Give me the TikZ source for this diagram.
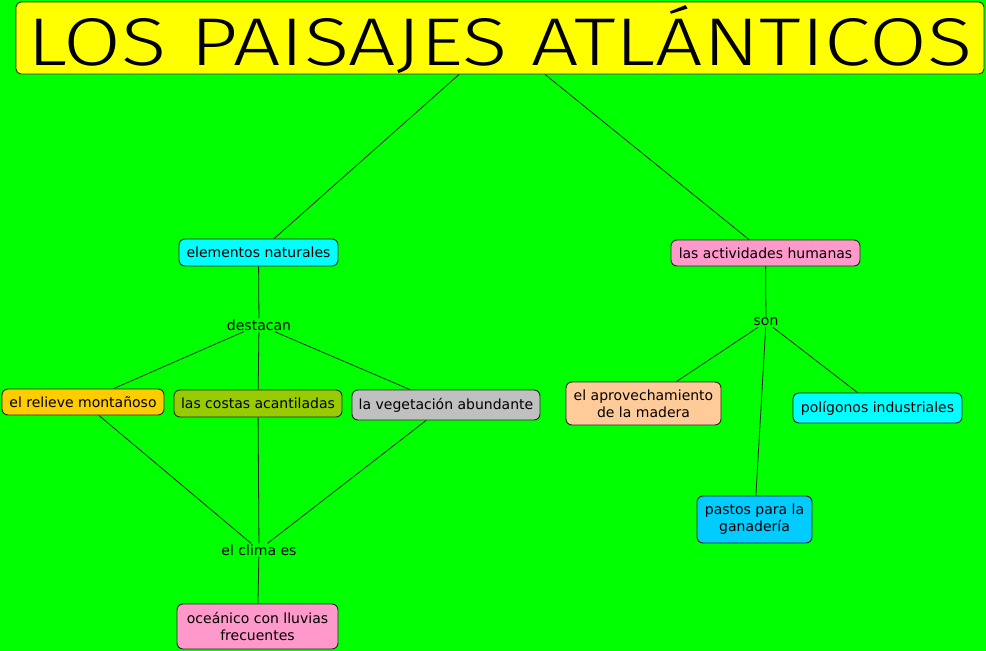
\documentclass[tikz,border=0pt]{standalone}
\usepackage{fontspec}
\setmainfont{DejaVu Sans}
\newfontfamily\titlefont{Fira Sans Light}
\definecolor{bggreen}{HTML}{00FF00}
\definecolor{ttlyellow}{HTML}{FFFF00}
\definecolor{ccyan}{HTML}{00FFFF}
\definecolor{cpink}{HTML}{FF99CC}
\definecolor{corange}{HTML}{FFCC00}
\definecolor{colive}{HTML}{99CC00}
\definecolor{cgrey}{HTML}{C0C0C0}
\definecolor{cpeach}{HTML}{FFCC99}
\definecolor{csky}{HTML}{00CCFF}
\begin{document}
\begin{tikzpicture}[x=1pt,y=-1pt,
  concept/.style={draw=black!85, line width=0.9pt, rounded corners=6pt, align=center,
    font=\fontsize{14}{17}\selectfont, inner sep=0pt},
  linklabel/.style={font=\fontsize{14}{17}\selectfont, inner sep=1pt, fill=bggreen},
  conn/.style={draw=black!85, line width=0.8pt}]
\fill[bggreen] (0,0) rectangle (986,651);
\useasboundingbox (0,0) rectangle (986,651);

\node[concept, fill=ttlyellow, minimum width=968pt, minimum height=72pt, rounded corners=5pt] (title) at (500,38) {};
\node[anchor=base, inner sep=0pt] (ttext) at (500,65)
  {\resizebox{944pt}{47pt}{\titlefont LOS PAISAJES ATL\smash{Á}NTICOS}};

\node[concept, fill=ccyan, minimum width=159pt, minimum height=27pt] (en) at (258.5,252.5) {elementos naturales};
\node[concept, fill=cpink, minimum width=189pt, minimum height=26pt] (ah) at (765.5,253) {las actividades humanas};

\node[linklabel] (dest) at (259,325) {destacan};
\node[linklabel] (son) at (766,322) {son};

\node[concept, fill=corange, minimum width=162pt, minimum height=26pt] (rel) at (83,402) {el relieve montañoso};
\node[concept, fill=colive, minimum width=168pt, minimum height=27pt] (cos) at (258,403.5) {las costas acantiladas};
\node[concept, fill=cgrey, minimum width=188pt, minimum height=30pt] (veg) at (446,405) {la vegetación abundante};

\node[concept, fill=cpeach, minimum width=155pt, minimum height=43pt] (apr) at (643.5,403.5) {el aprovechamiento\\de la madera};
\node[concept, fill=ccyan, minimum width=169pt, minimum height=30pt] (pol) at (877.5,408) {polígonos industriales};
\node[concept, fill=csky, minimum width=115pt, minimum height=47pt] (pas) at (754.5,519.5) {pastos para la\\ganadería};

\node[linklabel] (clima) at (259,550) {el clima es};
\node[concept, fill=cpink, minimum width=161pt, minimum height=45pt] (oce) at (257.5,626.5) {oceánico con lluvias\\frecuentes};

\draw[conn] (title) -- (en);
\draw[conn] (title) -- (ah);
\draw[conn] (en) -- (dest);
\draw[conn] (dest) -- (rel);
\draw[conn] (dest) -- (cos);
\draw[conn] (dest) -- (veg);
\draw[conn] (rel) -- (clima);
\draw[conn] (cos) -- (clima);
\draw[conn] (veg) -- (clima);
\draw[conn] (clima) -- (oce);
\draw[conn] (ah) -- (son);
\draw[conn] (son) -- (apr);
\draw[conn] (son) -- (pol);
\draw[conn] (son) -- (pas);
\end{tikzpicture}
\end{document}
